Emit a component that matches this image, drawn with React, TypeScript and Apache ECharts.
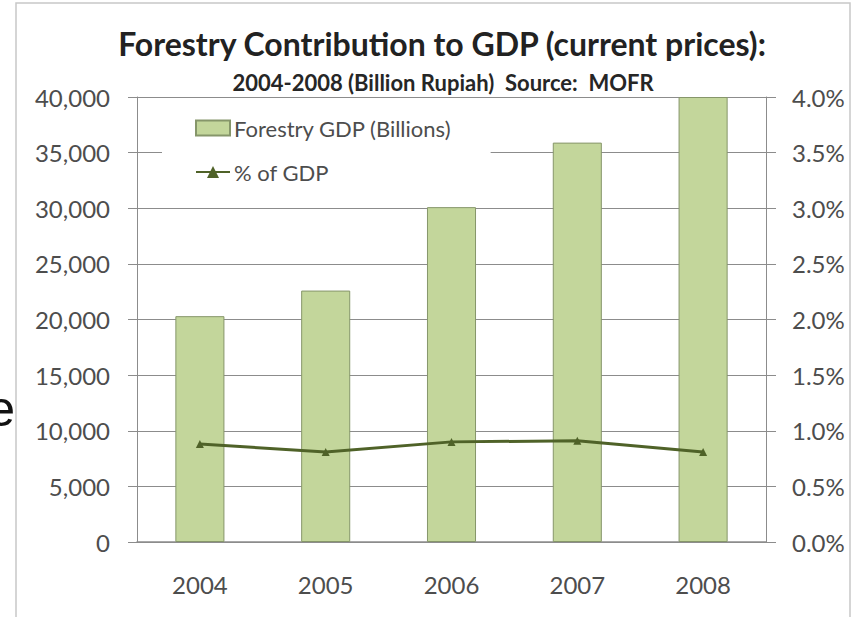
import React, { useEffect, useRef } from "react";
import * as echarts from "echarts";

const categories = ["2004", "2005", "2006", "2007", "2008"];
const forestryGdp = [20300, 22600, 30100, 35900, 40000];
const pctOfGdp = [0.88, 0.81, 0.9, 0.91, 0.81];
const titleText = "Forestry Contribution to GDP (current prices):";
const subtitleText = "2004-2008 (Billion Rupiah)  Source:  MOFR";
const seriesNames = ["Forestry GDP (Billions)", "% of GDP"];

export default function App() {
  const ref = useRef<HTMLDivElement>(null);
  useEffect(() => {
    if (!ref.current) return;
    const chart = echarts.init(ref.current, null, { renderer: "svg" });
    const grey = "#8c8c8c";
    const labelColor = "#4d4d4d";
    const font = "Lato";
    chart.setOption({
      animation: false,
      backgroundColor: "#ffffff",
      textStyle: { fontFamily: font },
      title: [
        {
          text: titleText,
          left: 437,
          top: 22,
          textAlign: "center",
          textStyle: { fontFamily: font, fontWeight: "bold", fontSize: 32, color: "#222222" },
        },
        {
          text: subtitleText,
          left: 438,
          top: 66,
          textAlign: "center",
          textStyle: { fontFamily: font, fontWeight: "bold", fontSize: 22, color: "#262626" },
        },
      ],
      legend: {
        orient: "vertical",
        left: 162,
        top: 100,
        padding: [17, 39, 18, 33],
        backgroundColor: "#ffffff",
        itemWidth: 34,
        itemHeight: 15,
        itemGap: 22,
        textStyle: { fontFamily: font, fontSize: 22, color: labelColor, lineHeight: 22, padding: [0, 0, 0, -1] },
        data: [
          { name: seriesNames[0], icon: "rect" },
          { name: seriesNames[1] },
        ],
      },
      grid: { left: 137, right: 88, top: 97, bottom: 75, containLabel: false },
      xAxis: {
        type: "category",
        data: categories,
        axisLine: { show: true, lineStyle: { color: grey, width: 1.5 } },
        axisTick: { show: false },
        axisLabel: { fontFamily: font, fontSize: 24, color: labelColor, margin: 30 },
      },
      yAxis: [
        {
          type: "value",
          min: 0,
          max: 40000,
          interval: 5000,
          axisLine: { show: true, lineStyle: { color: grey } },
          axisTick: { show: true, inside: false, length: 9, lineStyle: { color: grey } },
          splitLine: { show: true, lineStyle: { color: grey, width: 1 } },
          axisLabel: {
            fontFamily: font,
            fontSize: 24,
            color: labelColor,
            margin: 27,
            formatter: (v: number) => v.toLocaleString("en-US"),
          },
        },
        {
          type: "value",
          min: 0,
          max: 4,
          interval: 0.5,
          position: "right",
          axisLine: { show: true, lineStyle: { color: grey } },
          axisTick: { show: true, inside: false, length: 10, lineStyle: { color: grey } },
          splitLine: { show: false },
          axisLabel: {
            fontFamily: font,
            fontSize: 24,
            color: labelColor,
            margin: 26,
            formatter: (v: number) => v.toFixed(1) + "%",
          },
        },
      ],
      series: [
        {
          name: seriesNames[0],
          type: "bar",
          data: forestryGdp,
          barWidth: "39%",
          itemStyle: { color: "#c3d69b", borderColor: "#86966a", borderWidth: 1 },
          z: 2,
        },
        {
          name: seriesNames[1],
          type: "line",
          yAxisIndex: 1,
          data: pctOfGdp,
          symbol: "triangle",
          symbolSize: 8,
          lineStyle: { color: "#4f6228", width: 3 },
          itemStyle: { color: "#4f6228" },
          z: 3,
        },
      ],
      graphic: [
        {
          type: "rect",
          shape: { x: 16, y: 3, width: 834, height: 630 },
          style: { fill: "none", stroke: "#c8c8c8", lineWidth: 1.5 },
          silent: true,
          z: -1,
        },
        {
          type: "text",
          style: {
            text: "e",
            x: 15,
            y: 434,
            textAlign: "right",
            textVerticalAlign: "bottom",
            fontFamily: "Liberation Sans",
            fontSize: 50,
            fill: "#111111",
          },
          silent: true,
        },
      ],
    });
    return () => chart.dispose();
  }, []);
  return (
    <div
      ref={ref}
      style={{ position: "fixed", left: 0, top: 0, width: 854, height: 617 }}
    />
  );
}
